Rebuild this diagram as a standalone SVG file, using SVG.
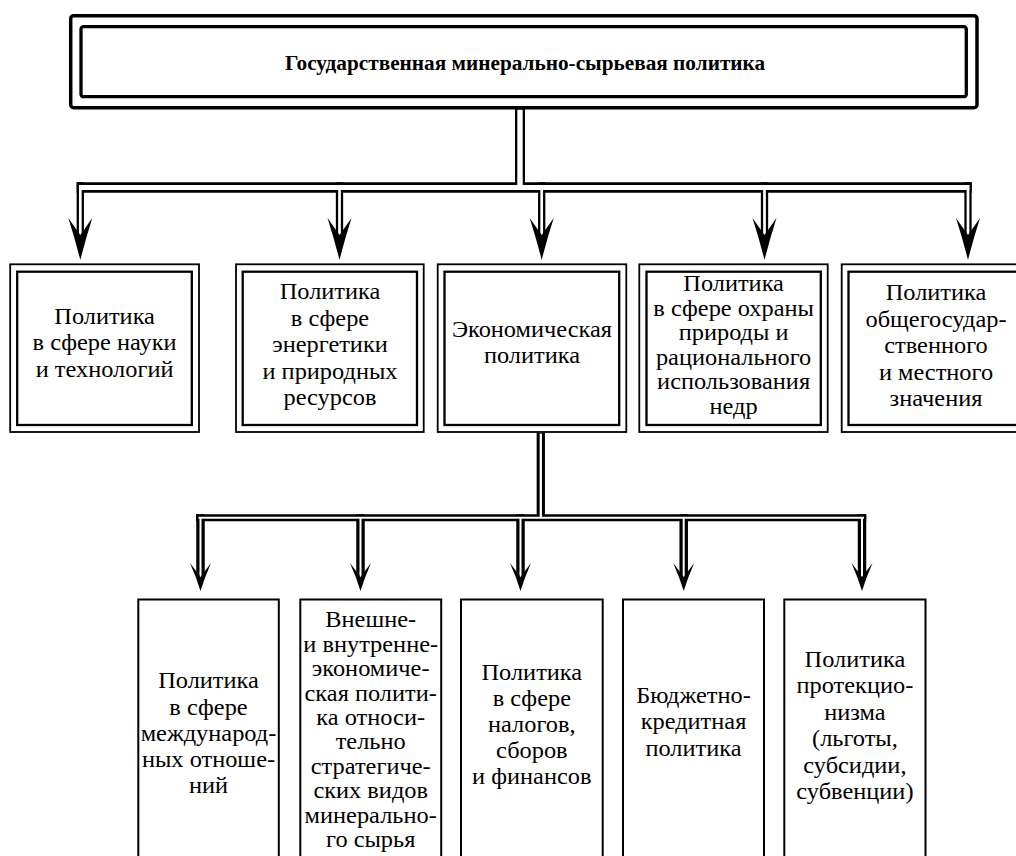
<svg xmlns="http://www.w3.org/2000/svg" xmlns:xlink="http://www.w3.org/1999/xlink" width="1016" height="856" viewBox="0 0 1016 856">
<style>
.t{font-family:"Liberation Serif","DejaVu Serif",serif;font-size:23px;text-anchor:middle;fill:#000}
.title{font-family:"Liberation Serif","DejaVu Serif",serif;font-size:20px;font-weight:bold;text-anchor:middle;fill:#000}
.ob{fill:#fff;stroke:#000;stroke-width:1.8}
.ib{fill:none;stroke:#000;stroke-width:2.3}
.sb{fill:#fff;stroke:#000;stroke-width:2}
.k{fill:none;stroke:#000;stroke-linecap:butt}
.w{fill:none;stroke:#fff;stroke-linecap:butt}
</style>
<defs>
<path id="ah1" d="M0,0 Q-5,-20 -12,-42 L0,-25 L12,-42 Q5,-20 0,0 Z" fill="#000"/>
<path id="ah2" d="M0,0 Q-4,-13 -10.5,-28 L0,-14 L10.5,-28 Q4,-13 0,0 Z" fill="#000"/>
</defs>
<rect width="1016" height="856" fill="#fff"/>

<g id="connectors">
  <path class="k" stroke-width="10" d="M520,108 V187.5"/>
  <path class="k" stroke-width="10.4" d="M76.7,187.5 H971.7"/>
  <path class="k" stroke-width="7.3" d="M80.3,182.3 V237 M339.5,182.3 V237 M541.7,182.3 V237 M764.5,182.3 V237 M968,182.3 V237"/>
  <path class="w" stroke-width="5.4" d="M520,109.6 V187.5"/>
  <path class="w" stroke-width="5" d="M79,187.5 H969.3"/>
  <path class="w" stroke-width="2.7" d="M80.3,185 V236 M339.5,185 V236 M541.7,185 V236 M764.5,185 V236 M968,185 V236"/>
  <use xlink:href="#ah1" x="80.3" y="260"/>
  <use xlink:href="#ah1" x="339.5" y="260"/>
  <use xlink:href="#ah1" x="541.7" y="260"/>
  <use xlink:href="#ah1" x="764.5" y="260"/>
  <use xlink:href="#ah1" x="968" y="260"/>
  <path class="k" stroke-width="8.3" d="M540.8,433 V518"/>
  <path class="k" stroke-width="7" d="M196,517.8 H866.2"/>
  <path class="k" stroke-width="8.5" d="M200.5,514.3 V578 M360.5,514.3 V578 M520.5,514.3 V578 M683.7,514.3 V578 M862,514.3 V578"/>
  <path class="w" stroke-width="2.3" d="M540.8,433.6 V517.8"/>
  <path class="w" stroke-width="2" d="M198.5,517.8 H864"/>
  <path class="w" stroke-width="2" d="M200.5,517.8 V577 M360.5,517.8 V577 M520.5,517.8 V577 M683.7,517.8 V577 M862,517.8 V577"/>
  <use xlink:href="#ah2" x="200.5" y="591"/>
  <use xlink:href="#ah2" x="360.5" y="591"/>
  <use xlink:href="#ah2" x="520.5" y="591"/>
  <use xlink:href="#ah2" x="683.7" y="591"/>
  <use xlink:href="#ah2" x="862" y="591"/>
</g>

<g id="root">
  <rect x="70.7" y="15.7" width="906.3" height="92" rx="3" fill="#fff" stroke="#000" stroke-width="3.5"/>
  <rect x="81" y="26.7" width="885.3" height="70" rx="2.5" fill="none" stroke="#000" stroke-width="3.3"/>
  <g transform="translate(525 0) scale(1.064 1)">
    <text class="title" x="0" y="70.5">Государственная минерально-сырьевая политика</text>
  </g>
</g>

<g id="n1">
  <rect class="ob" x="10.2" y="264.3" width="188.8" height="167.7"/>
  <rect class="ib" x="17.2" y="271.7" width="174.6" height="153.3"/>
  <g transform="translate(104.6 0) scale(1.06 1)">
    <text class="t" x="0" y="324">Политика</text>
    <text class="t" x="0" y="350.3">в сфере науки</text>
    <text class="t" x="0" y="376.6">и технологий</text>
  </g>
</g>

<g id="n2">
  <rect class="ob" x="236" y="264.3" width="187.7" height="167.7"/>
  <rect class="ib" x="242.7" y="271.7" width="174.3" height="153.3"/>
  <g transform="translate(330 0) scale(1.06 1)">
    <text class="t" x="0" y="299.5">Политика</text>
    <text class="t" x="0" y="325.9">в сфере</text>
    <text class="t" x="0" y="352.3">энергетики</text>
    <text class="t" x="0" y="378.7">и природных</text>
    <text class="t" x="0" y="405">ресурсов</text>
  </g>
</g>

<g id="n3">
  <rect class="ob" x="437.7" y="264.3" width="188.6" height="167.7"/>
  <rect class="ib" x="444.5" y="271.7" width="174.7" height="153.3"/>
  <g transform="translate(532 0) scale(1.06 1)">
    <text class="t" x="0" y="337.5">Экономическая</text>
    <text class="t" x="0" y="363.5">политика</text>
  </g>
</g>

<g id="n4">
  <rect class="ob" x="639.3" y="264.3" width="188.4" height="167.7"/>
  <rect class="ib" x="646.5" y="271.7" width="174.3" height="153.3"/>
  <g transform="translate(733.6 0) scale(1.06 1)">
    <text class="t" x="0" y="291.5">Политика</text>
    <text class="t" x="0" y="316">в сфере охраны</text>
    <text class="t" x="0" y="340.5">природы и</text>
    <text class="t" x="0" y="365">рационального</text>
    <text class="t" x="0" y="389.5">использования</text>
    <text class="t" x="0" y="414">недр</text>
  </g>
</g>

<g id="n5">
  <rect class="ob" x="841.7" y="264.3" width="188.4" height="167.7"/>
  <rect class="ib" x="848.5" y="271.7" width="174.3" height="153.3"/>
  <g transform="translate(936 0) scale(1.06 1)">
    <text class="t" x="0" y="300.5">Политика</text>
    <text class="t" x="0" y="326.9">общегосудар-</text>
    <text class="t" x="0" y="353.2">ственного</text>
    <text class="t" x="0" y="379.6">и местного</text>
    <text class="t" x="0" y="406">значения</text>
  </g>
</g>

<g id="m1">
  <rect class="sb" x="138.3" y="599.5" width="140.5" height="280"/>
  <g transform="translate(208.5 0) scale(1.06 1)">
    <text class="t" x="0" y="688.5">Политика</text>
    <text class="t" x="0" y="714.8">в сфере</text>
    <text class="t" x="0" y="741">международ-</text>
    <text class="t" x="0" y="767.3">ных отноше-</text>
    <text class="t" x="0" y="793.5">ний</text>
  </g>
</g>

<g id="m2">
  <rect class="sb" x="300.3" y="599.5" width="140.9" height="280"/>
  <g transform="translate(370.7 0) scale(1.06 1)">
    <text class="t" x="0" y="627.5">Внешне-</text>
    <text class="t" x="0" y="651.9">и внутренне-</text>
    <text class="t" x="0" y="676.3">экономиче-</text>
    <text class="t" x="0" y="700.7">ская полити-</text>
    <text class="t" x="0" y="725.1">ка относи-</text>
    <text class="t" x="0" y="749.5">тельно</text>
    <text class="t" x="0" y="773.9">стратегиче-</text>
    <text class="t" x="0" y="798.3">ских видов</text>
    <text class="t" x="0" y="822.7">минерально-</text>
    <text class="t" x="0" y="847.1">го сырья</text>
  </g>
</g>

<g id="m3">
  <rect class="sb" x="461" y="599.5" width="141.7" height="280"/>
  <g transform="translate(531.8 0) scale(1.06 1)">
    <text class="t" x="0" y="680">Политика</text>
    <text class="t" x="0" y="706">в сфере</text>
    <text class="t" x="0" y="732">налогов,</text>
    <text class="t" x="0" y="758">сборов</text>
    <text class="t" x="0" y="784">и финансов</text>
  </g>
</g>

<g id="m4">
  <rect class="sb" x="623" y="599.5" width="141" height="280"/>
  <g transform="translate(693.5 0) scale(1.06 1)">
    <text class="t" x="0" y="703">Бюджетно-</text>
    <text class="t" x="0" y="729.5">кредитная</text>
    <text class="t" x="0" y="756">политика</text>
  </g>
</g>

<g id="m5">
  <rect class="sb" x="784.3" y="599.5" width="141.2" height="280"/>
  <g transform="translate(854.9 0) scale(1.06 1)">
    <text class="t" x="0" y="667">Политика</text>
    <text class="t" x="0" y="693.5">протекцио-</text>
    <text class="t" x="0" y="720">низма</text>
    <text class="t" x="0" y="746.5">(льготы,</text>
    <text class="t" x="0" y="773">субсидии,</text>
    <text class="t" x="0" y="799.5">субвенции)</text>
  </g>
</g>
</svg>
